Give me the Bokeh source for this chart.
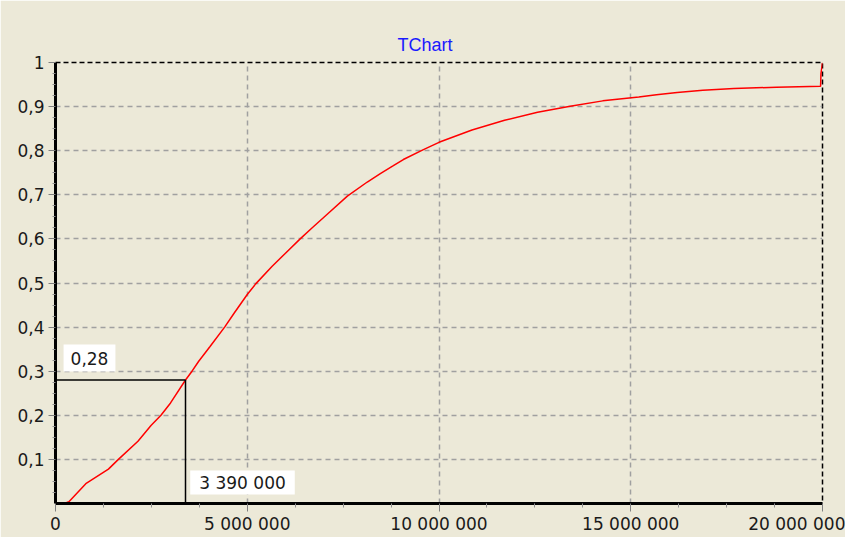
from bokeh.plotting import figure
from bokeh.models import Range1d, FixedTicker, Label
from bokeh.embed import file_html
from bokeh.resources import INLINE

title_text = "TChart"
x_ticks = [0, 5000000, 10000000, 15000000, 20000000]
x_tick_labels = ["0", "5 000 000", "10 000 000", "15 000 000", "20 000 000"]
y_ticks = [0.1, 0.2, 0.3, 0.4, 0.5, 0.6, 0.7, 0.8, 0.9, 1.0]
y_tick_labels = ["0,1", "0,2", "0,3", "0,4", "0,5", "0,6", "0,7", "0,8", "0,9", "1"]

curve_x = [230000, 350000, 790000, 1380000, 1640000, 2150000, 2490000, 2750000,
           3000000, 3390000, 3560000, 3730000, 4030000, 4410000, 4670000, 5000000,
           5220000, 5650000, 5990000, 6380000, 6680000, 7100000, 7610000, 8130000,
           8470000, 8810000, 9070000, 9580000, 10000000, 10860000, 11710000,
           12570000, 13420000, 14270000, 15210000, 15670000, 16210000, 16880000,
           17690000, 18800000, 19950000, 19960000, 20000000]
curve_y = [0.0, 0.004, 0.045, 0.078, 0.100, 0.141, 0.177, 0.200,
           0.228, 0.280, 0.300, 0.322, 0.356, 0.400, 0.433, 0.474,
           0.498, 0.538, 0.567, 0.600, 0.624, 0.657, 0.697, 0.729,
           0.748, 0.766, 0.780, 0.802, 0.819, 0.847, 0.869,
           0.887, 0.901, 0.913, 0.922, 0.927, 0.932, 0.937,
           0.941, 0.944, 0.946, 0.975, 1.0]

cursor_x = 3390000
cursor_y = 0.28
cursor_x_label = "3 390 000"
cursor_y_label = "0,28"

BG = "#ECE9D8"

x_minor = [x_ticks[i] + (x_ticks[i + 1] - x_ticks[i]) * k / 4
           for i in range(len(x_ticks) - 1) for k in range(1, 4)]
y_major_all = [0.0] + y_ticks
y_minor = [round(y_major_all[i] + (y_major_all[i + 1] - y_major_all[i]) * k / 4, 4)
           for i in range(len(y_major_all) - 1) for k in range(1, 4)]

p = figure(width=845, height=537,
           x_range=Range1d(x_ticks[0], x_ticks[-1]), y_range=Range1d(0, 1),
           output_backend="svg", toolbar_location=None, title=title_text,
           min_border_left=55, min_border_right=23, min_border_top=62,
           min_border_bottom=34)

p.background_fill_color = BG
p.border_fill_color = BG
p.outline_line_color = "black"
p.outline_line_dash = "5 3"
p.outline_line_width = 1.5

p.title.align = "left"
p.title.offset = 342
p.title.text_color = "#1a1aff"
p.title.text_font = "Liberation Sans"
p.title.text_font_size = "18px"
p.title.text_font_style = "normal"
p.title.standoff = 16

p.xaxis.ticker = FixedTicker(ticks=x_ticks, minor_ticks=x_minor)
p.yaxis.ticker = FixedTicker(ticks=y_ticks, minor_ticks=y_minor)
p.xaxis.major_label_overrides = dict(zip(x_ticks, x_tick_labels))
p.yaxis.major_label_overrides = dict(zip(y_ticks, y_tick_labels))

for ax in (p.xaxis[0], p.yaxis[0]):
    ax.axis_line_color = "black"
    ax.axis_line_width = 3
    ax.major_tick_line_color = "#808080"
    ax.minor_tick_line_color = "#909090"
    ax.major_tick_in = 0
    ax.minor_tick_in = 0
    ax.major_label_text_font = "DejaVu Sans"
    ax.major_label_text_font_size = "17px"
    ax.major_label_text_color = "#1a1a1a"
p.xaxis.major_tick_out = 8
p.xaxis.minor_tick_out = 4
p.xaxis.major_label_standoff = 2
p.yaxis.major_tick_out = 7
p.yaxis.minor_tick_out = 3
p.yaxis.major_label_standoff = 4

for g in (p.xgrid[0], p.ygrid[0]):
    g.grid_line_color = "#a0a0a0"
    g.grid_line_dash = "5 4"
    g.grid_line_width = 1.5

p.line(curve_x, curve_y, line_color="red", line_width=1.5)

p.segment(x0=[0, cursor_x], y0=[cursor_y, 0], x1=[cursor_x, cursor_x], y1=[cursor_y, cursor_y],
          line_color="black", line_width=1.5)

lbl_y = Label(x=0, y=cursor_y, text=cursor_y_label, x_offset=34, y_offset=22,
              text_align="center", text_baseline="middle",
              text_font="DejaVu Sans", text_font_size="17px", text_color="#1a1a1a",
              background_fill_color="white",
              padding=dict(left=7, right=7, top=7, bottom=7))
lbl_x = Label(x=cursor_x, y=0, text=cursor_x_label, x_offset=57, y_offset=21,
              text_align="center", text_baseline="middle",
              text_font="DejaVu Sans", text_font_size="17px", text_color="#1a1a1a",
              background_fill_color="white",
              padding=dict(left=9, right=9, top=2, bottom=2))
p.add_layout(lbl_y)
p.add_layout(lbl_x)

open("out.html", "w").write(file_html(p, INLINE))
